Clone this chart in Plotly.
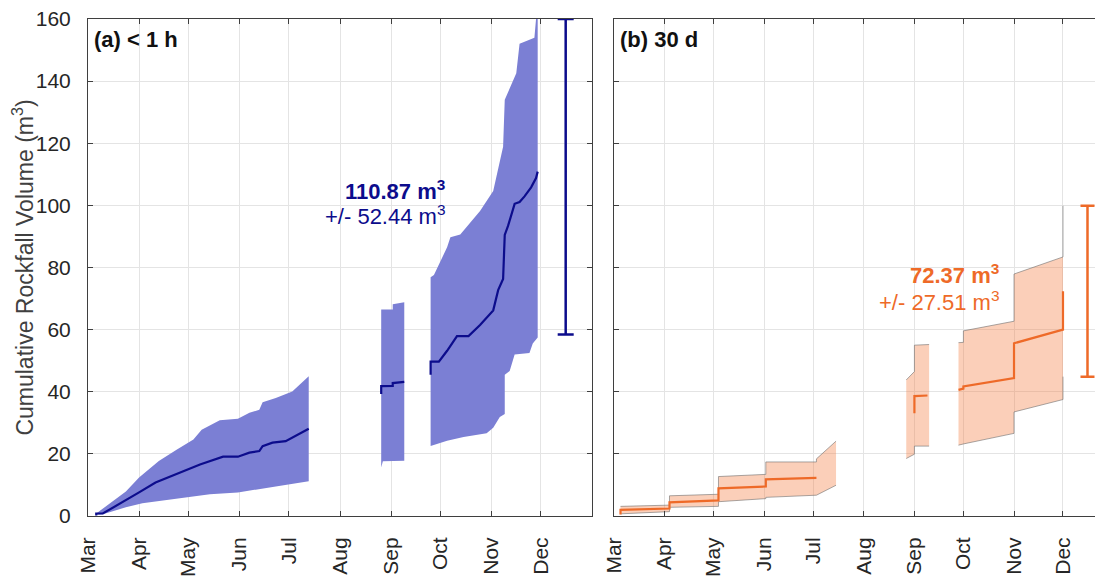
import plotly.graph_objects as go

# ---------------- data ----------------
months = ["Mar", "Apr", "May", "Jun", "Jul", "Aug", "Sep", "Oct", "Nov", "Dec"]
month_starts = ["2018-03-01", "2018-04-01", "2018-05-01", "2018-06-01", "2018-07-01",
                "2018-08-01", "2018-09-01", "2018-10-01", "2018-11-01", "2018-12-01"]
y_ticks = [0, 20, 40, 60, 80, 100, 120, 140, 160]

# Panel (a) < 1 h : segment 1 (Mar-Jul)
a1_line_t = ["2018-03-06", "2018-03-06", "2018-03-10", "2018-03-20", "2018-04-01", "2018-04-11",
             "2018-04-21", "2018-04-29", "2018-05-08", "2018-05-22", "2018-05-31", "2018-06-07",
             "2018-06-13", "2018-06-15", "2018-06-21", "2018-06-29", "2018-07-13"]
a1_line_v = [0.2, 0.8, 0.8, 3.8, 7.6, 10.8, 12.9, 14.5, 16.6, 19.1, 19.1, 20.4, 20.9, 22.5,
             23.6, 24.1, 28.1]
a1_up_t = ["2018-03-06", "2018-03-24", "2018-04-01", "2018-04-13", "2018-04-24", "2018-05-04",
           "2018-05-09", "2018-05-20", "2018-05-31", "2018-06-07", "2018-06-13", "2018-06-15",
           "2018-06-23", "2018-07-03", "2018-07-13"]
a1_up_v = [0.8, 7.9, 12.4, 17.7, 21.4, 24.6, 27.8, 30.8, 31.3, 33.2, 34.2, 36.6, 38.0, 40.1, 45.0]
a1_lo_t = ["2018-03-06", "2018-03-10", "2018-03-24", "2018-04-03", "2018-04-13", "2018-04-29",
           "2018-05-14", "2018-05-31", "2018-06-13", "2018-06-23", "2018-07-13"]
a1_lo_v = [0.4, 0.6, 2.8, 4.1, 4.9, 6.0, 7.0, 7.6, 8.6, 9.5, 11.2]

# Panel (a) segment 2 (late Aug - early Sep)
a2_line_t = ["2018-08-26", "2018-08-26", "2018-09-02", "2018-09-02", "2018-09-09"]
a2_line_v = [39.3, 41.8, 41.9, 42.8, 43.2]
a2_up_t = ["2018-08-26", "2018-09-02", "2018-09-02", "2018-09-09"]
a2_up_v = [66.5, 66.5, 68.2, 68.8]
a2_lo_t = ["2018-08-26", "2018-08-27", "2018-09-09"]
a2_lo_v = [15.6, 17.6, 17.8]

# Panel (a) segment 3 (late Sep - end Nov)
a3_line_t = ["2018-09-25", "2018-09-25", "2018-09-30", "2018-10-05", "2018-10-11", "2018-10-18",
             "2018-10-25", "2018-11-02", "2018-11-05", "2018-11-08", "2018-11-09", "2018-11-11",
             "2018-11-15", "2018-11-18", "2018-11-21", "2018-11-25", "2018-11-28", "2018-11-29"]
a3_line_v = [45.5, 49.7, 49.7, 53.2, 57.9, 57.9, 61.5, 66.2, 72.7, 76.3, 90.5, 93.4, 100.5,
             101.1, 102.9, 105.8, 108.8, 110.87]
a3_up_t = ["2018-09-25", "2018-09-27", "2018-10-05", "2018-10-07", "2018-10-13", "2018-10-25",
           "2018-11-02", "2018-11-05", "2018-11-08", "2018-11-09", "2018-11-16", "2018-11-18",
           "2018-11-27", "2018-11-28", "2018-11-29"]
a3_up_v = [76.9, 77.6, 86.5, 89.7, 90.6, 98.2, 104.6, 112.1, 118.9, 134.0, 142.5, 152.0,
           154.0, 160.0, 163.3]
a3_lo_t = ["2018-09-25", "2018-09-25", "2018-10-05", "2018-10-15", "2018-10-29", "2018-11-02",
           "2018-11-06", "2018-11-09", "2018-11-09", "2018-11-12", "2018-11-15", "2018-11-24",
           "2018-11-26", "2018-11-29"]
a3_lo_v = [19.5, 22.5, 24.2, 25.4, 26.6, 28.4, 31.9, 32.8, 45.5, 46.7, 52.0, 52.5, 55.5, 57.5]

# Panel (b) 30 d : segment 1
b1_line_t = ["2018-03-05", "2018-03-05", "2018-04-04", "2018-04-04", "2018-05-04", "2018-05-04",
             "2018-06-02", "2018-06-02", "2018-07-03"]
b1_line_v = [0.5, 2.0, 2.4, 4.4, 5.0, 8.9, 9.5, 11.8, 12.3]
b1_up_t = ["2018-03-05", "2018-04-04", "2018-04-04", "2018-05-04", "2018-05-04", "2018-06-02",
           "2018-06-02", "2018-07-03", "2018-07-03", "2018-07-15"]
b1_up_v = [3.1, 3.5, 6.5, 7.0, 12.7, 13.4, 17.4, 17.4, 18.4, 24.1]
b1_lo_t = ["2018-03-05", "2018-04-04", "2018-04-04", "2018-05-04", "2018-05-04", "2018-06-02",
           "2018-06-02", "2018-07-03", "2018-07-15"]
b1_lo_v = [0.7, 1.4, 2.8, 3.1, 4.6, 5.6, 6.0, 6.7, 9.9]

# Panel (b) segment 2
b2_line_t = ["2018-09-01", "2018-09-01", "2018-09-09"]
b2_line_v = [33.1, 38.6, 38.8]
b2_up_t = ["2018-08-27", "2018-09-01", "2018-09-01", "2018-09-10"]
b2_up_v = [43.8, 46.5, 55.0, 55.2]
b2_lo_t = ["2018-08-27", "2018-09-01", "2018-09-01", "2018-09-10"]
b2_lo_v = [18.5, 19.9, 22.5, 22.5]

# Panel (b) segment 3
b3_line_t = ["2018-09-28", "2018-10-01", "2018-10-01", "2018-11-01", "2018-11-01", "2018-12-01",
             "2018-12-01"]
b3_line_v = [40.6, 41.0, 41.7, 44.4, 55.6, 60.0, 72.37]
b3_up_t = ["2018-09-28", "2018-10-01", "2018-10-01", "2018-11-01", "2018-11-01", "2018-12-01",
           "2018-12-01"]
b3_up_v = [55.8, 55.9, 59.6, 62.7, 77.9, 83.4, 99.88]
b3_lo_t = ["2018-09-28", "2018-10-01", "2018-11-01", "2018-11-01", "2018-12-01", "2018-12-01"]
b3_lo_v = [22.8, 23.2, 26.6, 33.5, 37.5, 44.86]

# Totals and uncertainties
total_a, unc_a = 110.87, 52.44
total_b, unc_b = 72.37, 27.51
err_date = "2018-12-16"
panel_labels = ["(a) < 1 h", "(b) 30 d"]

# ---------------- style ----------------
FONT = "Liberation Sans, Arial, sans-serif"
TXT = "#262626"
BLUE_LINE = "#0C0C8C"
BLUE_FILL = "#7B7FD4"
ORANGE_LINE = "#EE6A28"
ORANGE_FILL = "rgba(245,130,70,0.38)"
Y_MAX = 160

fig = go.Figure()


def add_segment(up_t, up_v, lo_t, lo_v, ln_t, ln_v, xa, ya, fill, lcolor, edge):
    fig.add_trace(go.Scatter(x=up_t + lo_t[::-1], y=up_v + lo_v[::-1], fill="toself",
                             fillcolor=fill, mode="lines", line=dict(width=0),
                             xaxis=xa, yaxis=ya, hoverinfo="skip", showlegend=False))
    if edge:
        for tt, vv in ((up_t, up_v), (lo_t, lo_v)):
            fig.add_trace(go.Scatter(x=tt, y=vv, mode="lines",
                                     line=dict(color="rgba(110,110,110,0.75)", width=0.8),
                                     xaxis=xa, yaxis=ya, hoverinfo="skip", showlegend=False))
    fig.add_trace(go.Scatter(x=ln_t, y=ln_v, mode="lines", line=dict(color=lcolor, width=2.2),
                             xaxis=xa, yaxis=ya, showlegend=False))


for seg in [(a1_up_t, a1_up_v, a1_lo_t, a1_lo_v, a1_line_t, a1_line_v),
            (a2_up_t, a2_up_v, a2_lo_t, a2_lo_v, a2_line_t, a2_line_v),
            (a3_up_t, a3_up_v, a3_lo_t, a3_lo_v, a3_line_t, a3_line_v)]:
    add_segment(*seg, "x", "y", BLUE_FILL, BLUE_LINE, False)

for seg in [(b1_up_t, b1_up_v, b1_lo_t, b1_lo_v, b1_line_t, b1_line_v),
            (b2_up_t, b2_up_v, b2_lo_t, b2_lo_v, b2_line_t, b2_line_v),
            (b3_up_t, b3_up_v, b3_lo_t, b3_lo_v, b3_line_t, b3_line_v)]:
    add_segment(*seg, "x2", "y2", ORANGE_FILL, ORANGE_LINE, True)

for total, unc, xa, ya, col, w in [(total_a, unc_a, "x", "y", BLUE_LINE, 8),
                                   (total_b, unc_b, "x2", "y2", ORANGE_LINE, 7)]:
    fig.add_trace(go.Scatter(
        x=[err_date], y=[total], mode="markers", marker=dict(size=1, color=col),
        error_y=dict(type="data", symmetric=False, array=[min(total + unc, Y_MAX) - total],
                     arrayminus=[unc], color=col, thickness=2.5, width=w),
        cliponaxis=False, xaxis=xa, yaxis=ya, showlegend=False))

axis_common = dict(
    showgrid=True, gridcolor="#E4E4E4", gridwidth=1, zeroline=False,
    showline=True, linecolor="#3F3F3F", linewidth=1,
    ticks="inside", ticklen=5, tickcolor="#3F3F3F",
    tickfont=dict(family=FONT, size=21, color=TXT),
    ticklabeloverflow="allow",
)
x_common = dict(axis_common, type="date", tickvals=month_starts, ticktext=months,
                tickangle=-90, mirror="ticks", ticklabelstandoff=12)

# The page body keeps an 8 px margin, so the figure is sized/offset to compensate.
fig.update_layout(
    width=1095, height=568,
    margin=dict(l=80, r=0, t=11, b=60, autoexpand=False),
    paper_bgcolor="white", plot_bgcolor="white",
    font=dict(family=FONT, color=TXT),
    xaxis=dict(x_common, domain=[0, 0.4966], range=["2018-03-01", "2019-01-01"], anchor="y"),
    xaxis2=dict(x_common, domain=[0.5182, 1.0], range=["2018-03-01", "2018-12-25 12:00"],
                anchor="y2"),
    yaxis=dict(axis_common, range=[0, Y_MAX], tickvals=y_ticks, mirror="ticks", anchor="x",
               ticklabelstandoff=12,
               title=dict(text="Cumulative Rockfall Volume (m<sup>3</sup>)",
                          font=dict(family=FONT, size=23, color="#404040"), standoff=6)),
    yaxis2=dict(axis_common, range=[0, Y_MAX], tickvals=y_ticks, showticklabels=False,
                mirror=False, anchor="x2"),
)

fig.add_annotation(text="<b>" + panel_labels[0] + "</b>", xref="x domain", yref="y domain",
                   x=0.008, y=0.958, xanchor="left", yanchor="middle", showarrow=False,
                   font=dict(family=FONT, size=22, color="#111111"))
fig.add_annotation(text="<b>" + panel_labels[1] + "</b>", xref="x2 domain", yref="y2 domain",
                   x=0.008, y=0.958, xanchor="left", yanchor="middle", showarrow=False,
                   font=dict(family=FONT, size=22, color="#111111"))

fig.add_annotation(text=f"<b>{total_a:.2f} m<sup>3</sup></b>", xref="x", yref="y",
                   x="2018-10-05", y=105, xanchor="right", yanchor="middle", showarrow=False,
                   font=dict(family=FONT, size=22, color=BLUE_LINE))
fig.add_annotation(text=f"+/- {unc_a:.2f} m<sup>3</sup>", xref="x", yref="y",
                   x="2018-10-05", y=96.8, xanchor="right", yanchor="middle", showarrow=False,
                   font=dict(family=FONT, size=22, color=BLUE_LINE))
fig.add_annotation(text=f"<b>{total_b:.2f} m<sup>3</sup></b>", xref="x2", yref="y2",
                   x="2018-10-24", y=77.9, xanchor="right", yanchor="middle", showarrow=False,
                   font=dict(family=FONT, size=22, color=ORANGE_LINE))
fig.add_annotation(text=f"+/- {unc_b:.2f} m<sup>3</sup>", xref="x2", yref="y2",
                   x="2018-10-24", y=69.2, xanchor="right", yanchor="middle", showarrow=False,
                   font=dict(family=FONT, size=22, color=ORANGE_LINE))

fig.write_html("out.html")
